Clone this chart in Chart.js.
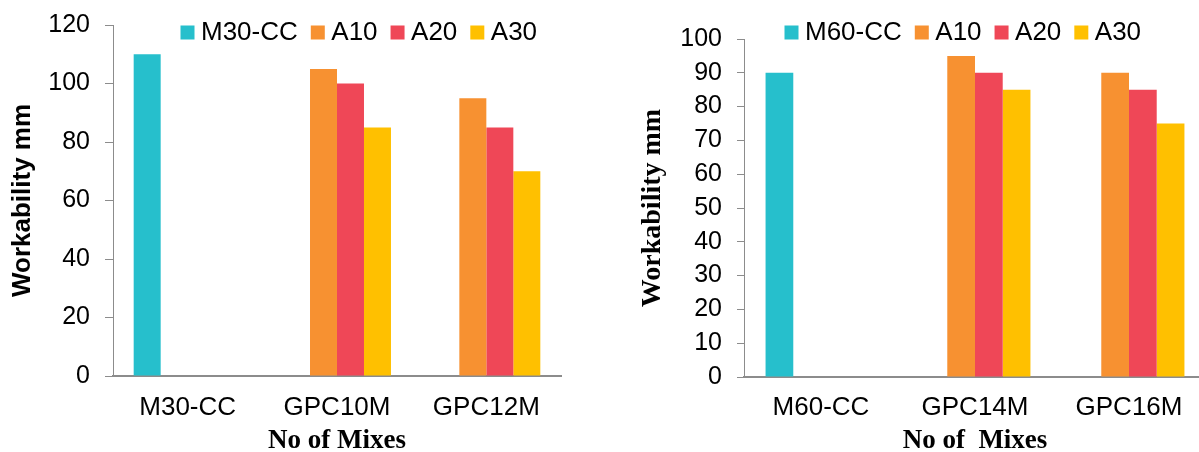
<!DOCTYPE html>
<html>
<head>
<meta charset="utf-8">
<script src="https://cdn.jsdelivr.net/npm/chart.js@4"></script>
<style>
  html, body { margin: 0; padding: 0; background: #fff; overflow: hidden; }
  #wrap { position: relative; width: 1199px; height: 452px; overflow: hidden; }
  #left { position: absolute; left: 0; top: 0; }
  #right { position: absolute; left: 600px; top: 0; }
</style>
</head>
<body>
<div id="wrap">
  <canvas id="left" width="600" height="452"></canvas>
  <canvas id="right" width="606" height="452"></canvas>
</div>
<script>
const leftCategories = ['M30-CC', 'GPC10M', 'GPC12M'];
const leftControl = [110, null, null];
const leftA10 = [null, 105, 95];
const leftA20 = [null, 100, 85];
const leftA30 = [null, 85, 70];
const leftYMax = 120;
const leftYStep = 20;

const rightCategories = ['M60-CC', 'GPC14M', 'GPC16M'];
const rightControl = [90, null, null];
const rightA10 = [null, 95, 90];
const rightA20 = [null, 90, 85];
const rightA30 = [null, 85, 75];
const rightYMax = 100;
const rightYStep = 10;

const colors = ['#26bfcc', '#f79131', '#ef4757', '#ffc000'];
const axisGray = '#8c8c8c';

Chart.defaults.font.family = "'Liberation Sans', Arial, sans-serif";
Chart.defaults.color = '#000';

// the legend only takes 1px of layout (maxHeight), then gets moved over the plot top
const legendPlace = {
    id: 'legendPlace',
    afterLayout(chart, args, opts) {
        const lg = chart.legend;
        if (!lg) return;
        const pad = lg.options.labels.padding;
        lg.left = opts.x - pad;
        lg.right = lg.left + 600;
        lg.top = opts.cy - pad - opts.fontSize / 2;
        lg.bottom = lg.top + 80;
    }
};

function makeChart(id, s) {
    const ctx = document.getElementById(id).getContext('2d');
    const names = [s.controlName, 'A10', 'A20', 'A30'];
    const series = [s.control, s.a10, s.a20, s.a30];
    return new Chart(ctx, {
        type: 'bar',
        data: {
            labels: s.categories,
            datasets: series.map((d, i) => ({
                label: names[i],
                data: d,
                backgroundColor: colors[i],
                borderWidth: 0,
                categoryPercentage: s.catPct,
                barPercentage: 1
            }))
        },
        options: {
            responsive: false,
            animation: false,
            layout: { padding: { left: 0, top: s.top - 1, right: s.right, bottom: 0 } },
            plugins: {
                tooltip: { enabled: false },
                legend: {
                    position: 'top',
                    align: 'start',
                    maxHeight: 1,
                    labels: {
                        usePointStyle: true,
                        pointStyle: 'rect',
                        boxWidth: 1,
                        boxHeight: 14,
                        padding: 19.5,
                        color: '#000',
                        font: { size: 26 }
                    }
                },
                legendPlace: { x: s.legendX, cy: 32.5, fontSize: 26 }
            },
            scales: {
                x: {
                    grid: { display: false, drawTicks: false },
                    border: { color: axisGray, width: 2 },
                    ticks: { padding: s.xTickPad, font: { size: 26, lineHeight: 1 }, color: '#000' },
                    title: {
                        display: true,
                        text: s.xTitle,
                        color: '#000',
                        padding: { top: 0, bottom: 0 },
                        font: { family: "'Liberation Serif', 'Times New Roman', serif", size: 27, weight: 'bold', lineHeight: 0.82 }
                    },
                    afterFit: sc => { sc.height = s.xHeight; }
                },
                y: {
                    min: 0,
                    max: s.yMax,
                    grid: { drawOnChartArea: false, drawTicks: true, tickLength: s.tickLen, color: axisGray },
                    border: { color: axisGray, width: 1 },
                    ticks: { stepSize: s.yStep, padding: 15, font: { size: 25 }, color: '#000' },
                    title: {
                        display: true,
                        text: 'Workability mm',
                        color: '#000',
                        padding: { top: s.yTitlePad, bottom: 0 },
                        font: { family: s.yTitleFamily, size: s.yTitleSize, weight: 'bold', lineHeight: 1 }
                    },
                    afterFit: sc => {
                        sc.width = s.yWidth;
                        sc.paddingTop = 0;
                        sc.paddingBottom = 0;
                    }
                }
            }
        },
        plugins: [legendPlace]
    });
}

document.addEventListener('DOMContentLoaded', () => {
    makeChart('left', {
        categories: leftCategories,
        controlName: 'M30-CC',
        control: leftControl, a10: leftA10, a20: leftA20, a30: leftA30,
        yMax: leftYMax, yStep: leftYStep,
        catPct: 0.723,
        top: 25, right: 39,
        xHeight: 76, xTickPad: 19,
        yWidth: 113, tickLen: 8,
        yTitlePad: 9.5, yTitleSize: 26,
        yTitleFamily: "'Liberation Sans', Arial, sans-serif",
        xTitle: 'No of Mixes',
        legendX: 187
    });
    makeChart('right', {
        categories: rightCategories,
        controlName: 'M60-CC',
        control: rightControl, a10: rightA10, a20: rightA20, a30: rightA30,
        yMax: rightYMax, yStep: rightYStep,
        catPct: 0.72,
        top: 39, right: 0,
        xHeight: 75, xTickPad: 18,
        yWidth: 144, tickLen: 7,
        yTitlePad: 38.5, yTitleSize: 28,
        yTitleFamily: "'Liberation Serif', 'Times New Roman', serif",
        xTitle: 'No of  Mixes',
        legendX: 191
    });
});
</script>
</body>
</html>
